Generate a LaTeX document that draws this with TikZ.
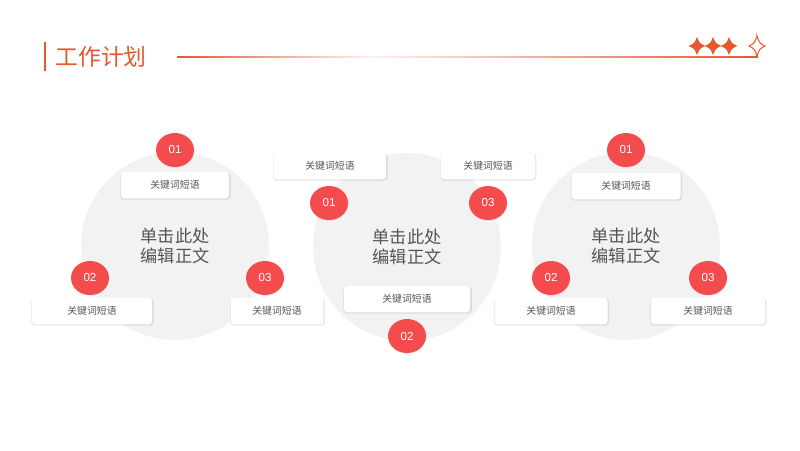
\documentclass[tikz,border=0pt]{standalone}
\usepackage{fontspec}
\setmainfont{Liberation Sans}
\newfontfamily\cjk{Noto Sans CJK SC}
\usepackage{xcolor}
\usetikzlibrary{positioning, shapes.geometric, shadows}

\definecolor{accent}{HTML}{E8582E}
\definecolor{dotred}{HTML}{F44B4D}
\definecolor{discgrey}{HTML}{F2F2F2}
\definecolor{textgrey}{HTML}{555555}

\tikzset{
    sparkle/.pic={
        \path[pic actions] (0,-1) .. controls (0.3,-0.3) .. (1,0)
            .. controls (0.3,0.3) .. (0,1)
            .. controls (-0.3,0.3) .. (-1,0)
            .. controls (-0.3,-0.3) .. cycle;
    }
}

\begin{document}
\begin{tikzpicture}[
    x=0.02cm, y=-0.02cm,
    bigdisc/.style={circle, fill=discgrey, minimum size=3.76cm, inner sep=0pt, align=center, text=textgrey, font=\cjk\fontsize{9.8}{11}\selectfont},
    keybox/.style={rectangle, fill=white, rounded corners=1.8pt, minimum height=0.53cm, inner sep=0pt, text=textgrey, font=\cjk\fontsize{5.6}{6}\selectfont, drop shadow={shadow xshift=0.3pt, shadow yshift=-0.6pt, shadow scale=1.02, opacity=0.09, fill=black}},
    numdot/.style={ellipse, fill=dotred, minimum width=0.76cm, minimum height=0.68cm, inner sep=0pt, text=white, font=\fontsize{6.6}{7}\selectfont, drop shadow={shadow xshift=0.3pt, shadow yshift=-0.5pt, opacity=0.08, fill=black}},
    headline/.style={text=accent, font=\cjk\fontsize{13}{14}\selectfont, inner sep=0pt}
]
\useasboundingbox (0,0) rectangle (800,450);

% title
\draw[accent, line width=1.1pt] (45,42) -- (45,71);
\node[headline, anchor=west] (title) at (55,57) {工作计划};
\shade[left color=accent, right color=accent!8] (177,56.3) rectangle (370,57.7);
\shade[left color=accent!8, right color=accent] (370,56.3) rectangle (757,57.7);
\fill[accent] (756.3,52) rectangle (757.7,57.7);
\path foreach \sx in {697,713,729} {(\sx,46) pic[fill=accent, xscale=8.5, yscale=9] {sparkle}};
\path (757,46) pic[draw=accent, fill=white, line width=0.6pt, xscale=8, yscale=10] {sparkle};

% discs
\node[bigdisc] (discA) at (175,246) {单击此处\\编辑正文};
\node[bigdisc] (discB) at (407,247) {单击此处\\编辑正文};
\node[bigdisc] (discC) at (626,246) {单击此处\\编辑正文};

% left group
\node[keybox, minimum width=2.16cm] (boxA1) at (175,185) {关键词短语};
\node[keybox, minimum width=2.4cm] (boxA2) at (92,311) {关键词短语};
\node[keybox, minimum width=1.86cm] (boxA3) at (277,311) {关键词短语};
\node[numdot] (dotA1) at (175,150) {01};
\node[numdot] (dotA2) at (90,278) {02};
\node[numdot] (dotA3) at (265,278) {03};

% middle group
\node[keybox, minimum width=2.24cm] (boxB1) at (330,166) {关键词短语};
\node[keybox, minimum width=2.52cm] (boxB2) at (407,299) {关键词短语};
\node[keybox, minimum width=1.88cm] (boxB3) at (488,166) {关键词短语};
\node[numdot] (dotB1) at (329,203) {01};
\node[numdot] (dotB2) at (407,336) {02};
\node[numdot] (dotB3) at (488,203) {03};

% right group
\node[keybox, minimum width=2.18cm] (boxC1) at (626,186) {关键词短语};
\node[keybox, minimum width=2.26cm] (boxC2) at (551,311) {关键词短语};
\node[keybox, minimum width=2.28cm] (boxC3) at (708,311) {关键词短语};
\node[numdot] (dotC1) at (626,150) {01};
\node[numdot] (dotC2) at (551,278) {02};
\node[numdot] (dotC3) at (708,278) {03};
\end{tikzpicture}
\end{document}
